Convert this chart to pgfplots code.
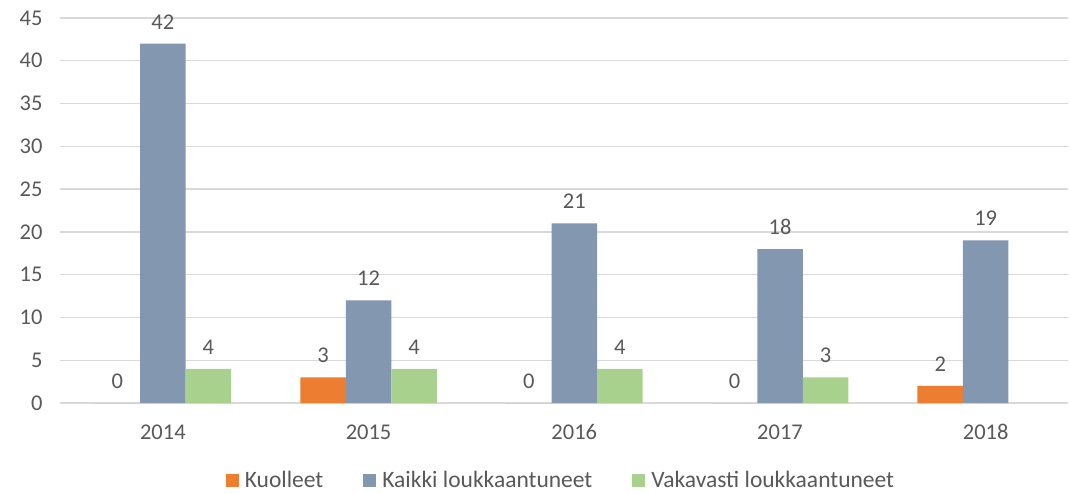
\documentclass[border=0pt]{standalone}
\usepackage{pgfplots}
\pgfplotsset{compat=1.18}
\usepackage{fontspec}
\setmainfont{Carlito}
\definecolor{cOrange}{HTML}{ED7D31}
\definecolor{cBlue}{HTML}{8497B0}
\definecolor{cGreen}{HTML}{A9D18E}
\definecolor{cText}{HTML}{595959}
\definecolor{cGrid}{HTML}{D9D9D9}
\begin{document}
\begin{tikzpicture}
\begin{axis}[
  scale only axis,
  width=1008pt, height=385pt,
  ybar=0pt, bar width=45.5pt,
  xmin=-0.5, xmax=4.4,
  ymin=0, ymax=45,
  xtick={0,1,2,3,4},
  xticklabels={2014,2015,2016,2017,2018},
  ytick={0,5,...,45},
  ymajorgrids, grid style={cGrid, line width=1.3pt},
  axis line style={draw=none},
  major tick length=0pt,
  tick label style={font=\fontsize{22.5}{26}\selectfont, text=cText},
  /pgf/number format/assume math mode=true,
  yticklabel style={xshift=-14pt},
  xticklabel style={yshift=-18pt},
  nodes near coords,
  every node near coord/.append style={font=\fontsize{22.5}{26}\selectfont, text=cText, yshift=11pt},
  legend style={at={(0.496,-0.2)}, anchor=center, draw=none, legend columns=-1,
    font=\fontsize{23.5}{27}\selectfont, text=cText,
    nodes={inner sep=0pt}, column sep=0pt},
  legend image code/.code={\fill[#1] (0pt,-6.5pt) rectangle (13pt,6.5pt); \path (19pt,0pt);},
]
\addplot[fill=cOrange, draw=none] coordinates {(0,0) (1,3) (2,0) (3,0) (4,2)};
\addplot[fill=cBlue, draw=none] coordinates {(0,42) (1,12) (2,21) (3,18) (4,19)};
\addplot[fill=cGreen, draw=none] coordinates {(0,4) (1,4) (2,4) (3,3)};
\legend{Kuolleet\hspace*{40pt}, Kaikki loukkaantuneet\hspace*{40pt}, Vakavasti loukkaantuneet}
\end{axis}
\path (current axis.south west) ++(-60pt,-90pt) coordinate (bbA);
\path (current axis.north east) ++(2pt,18pt) coordinate (bbB);
\path (bbA) rectangle (bbB);
\end{tikzpicture}
\end{document}
